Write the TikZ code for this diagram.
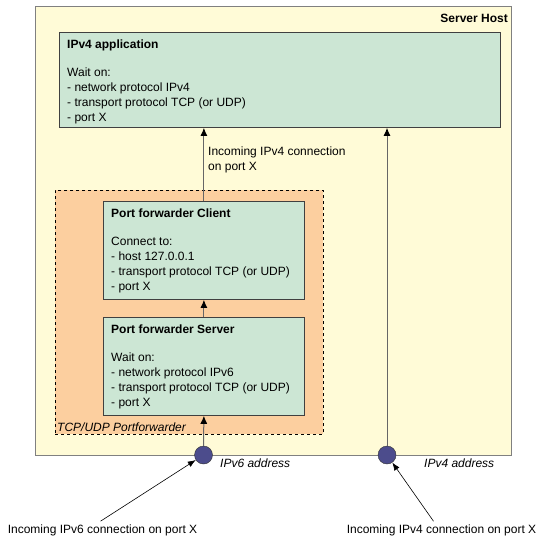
\documentclass[tikz,border=0pt]{standalone}
\usepackage{fontspec}
\setmainfont{Liberation Sans}
\usetikzlibrary{positioning,arrows.meta}
\definecolor{hostyellow}{HTML}{FFFBD7}
\definecolor{appgreen}{HTML}{CCE6D4}
\definecolor{fwdpeach}{HTML}{FCCF9F}
\definecolor{addrblue}{HTML}{4C4C8C}

\begin{document}
\begin{tikzpicture}[x=1pt,y=-1pt,font=\fontsize{12}{15}\selectfont,
  hostbox/.style={draw=black!50,fill=hostyellow,line width=1.3pt,anchor=north west,inner sep=0},
  appbox/.style={draw=black!75,fill=appgreen,line width=0.8pt,anchor=north west,inner sep=0},
  fwdbox/.style={draw=black,dashed,fill=fwdpeach,line width=0.7pt,anchor=north west,inner sep=0},
  boxtext/.style={anchor=north west,align=left,inner sep=0},
  addr/.style={circle,draw=black!80,fill=addrblue,minimum size=18pt,inner sep=0},
  addrlabel/.style={anchor=west,inner sep=0,font=\fontsize{12}{15}\selectfont\itshape},
  link/.style={draw=black!60,line width=1pt,-{Latex[length=8pt,width=7pt,color=black]}},
  incoming/.style={draw=black,line width=0.6pt,-{Latex[length=8pt,width=6pt]}}]
\useasboundingbox (0,0) rectangle (537,540);

% server host
\node[hostbox,minimum width=476,minimum height=449] (host) at (35,6) {};
\node[anchor=north east,inner sep=0,font=\fontsize{12}{15}\selectfont\bfseries] (hostlbl) at (508,14) {Server Host};

% ipv4 application
\node[appbox,minimum width=441,minimum height=95] (app) at (59,32) {};
\node[boxtext] (apptext) at ([shift={(8,8)}]app.north west)
  {\textbf{IPv4 application}\\[13pt]Wait on:\\- network protocol IPv4\\- transport protocol TCP (or UDP)\\- port X};

% port forwarder
\node[fwdbox,minimum width=268,minimum height=244] (fwd) at (55,190) {};
\node[anchor=base west,inner sep=0,font=\fontsize{12}{15}\selectfont\itshape] (fwdlbl) at (57,431) {TCP/UDP Portforwarder};

\node[appbox,minimum width=201,minimum height=98] (client) at (103,201) {};
\node[boxtext] (clienttext) at ([shift={(8,8)}]client.north west)
  {\textbf{Port forwarder Client}\\[13pt]Connect to:\\- host 127.0.0.1\\- transport protocol TCP (or UDP)\\- port X};

\node[appbox,minimum width=201,minimum height=98] (server) at (103,317) {};
\node[boxtext] (servertext) at ([shift={(8,8)}]server.north west)
  {\textbf{Port forwarder Server}\\[13pt]Wait on:\\- network protocol IPv6\\- transport protocol TCP (or UDP)\\- port X};

% addresses
\node[addr] (v6) at (203.5,455) {};
\node[addr] (v4) at (387,455) {};
\node[addrlabel] (v6lbl) at (220,463) {IPv6 address};
\node[addrlabel] (v4lbl) at (424,463) {IPv4 address};

% connections
\draw[link] (server.north) -- (client.south);
\draw[link] (client.north) -- (client.north |- app.south);
\node[anchor=west,align=left,inner sep=0] (linklbl) at (208,159.5) {Incoming IPv4 connection\\on port X};
\draw[link] (v6.north) -- (server.south);
\draw[link] (v4.north) -- (v4.north |- app.south);

% incoming
\node[inner sep=3pt] (in6) at (102.5,530) {Incoming IPv6 connection on port X};
\node[inner sep=3pt] (in4) at (441.5,530) {Incoming IPv4 connection on port X};
\draw[incoming] ([xshift=-2]in6.north) -- (v6);
\draw[incoming] ([xshift=-8]in4.north) -- (v4);

\end{tikzpicture}
\end{document}
